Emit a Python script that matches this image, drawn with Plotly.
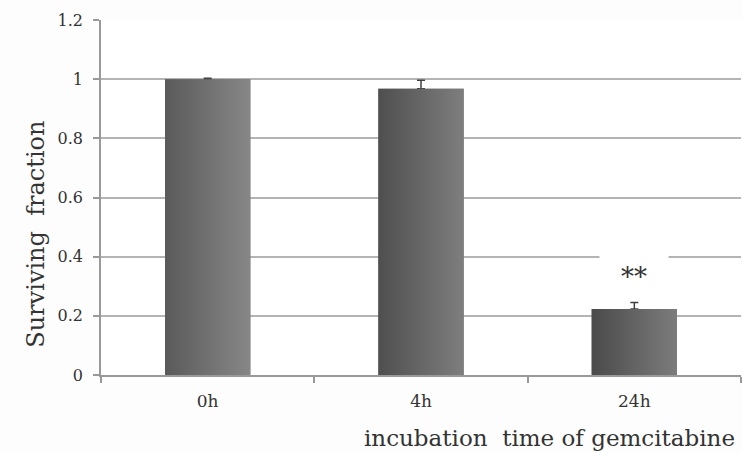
import plotly.graph_objects as go

# Surviving fraction after gemcitabine incubation
categories = ["0h", "4h", "24h"]
surviving = [1.0, 0.968, 0.223]
errors = [0.003, 0.028, 0.022]
significance = ["", "", "**"]
y_ticks = [0, 0.2, 0.4, 0.6, 0.8, 1.0, 1.2]
y_tick_text = ["0", "0.2", "0.4", "0.6", "0.8", "1", "1.2"]

# per-bar shading (left edge -> right edge)
shade_left = ["#5a5a5a", "#4f4f4f", "#4a4a4a"]
shade_right = ["#878787", "#7e7e7e", "#7c7c7c"]

BAR_W = 0.4
FONT = "DejaVu Serif"
GRID = "#b4b4b4"

xs = list(range(len(categories)))
fig = go.Figure()

fig.add_trace(go.Bar(
    x=xs, y=surviving, width=BAR_W,
    marker=dict(color="#6c6c6c", line=dict(width=0)),
    error_y=dict(type="data", array=errors, arrayminus=[0] * len(errors),
                 symmetric=False, color="#404040", thickness=1.5, width=4),
    showlegend=False, hoverinfo="skip",
))

# horizontal shading over each bar, built from the same values
for i, v in enumerate(surviving):
    x0, x1 = xs[i] - BAR_W / 2, xs[i] + BAR_W / 2
    fig.add_trace(go.Scatter(
        x=[x0, x1, x1, x0, x0], y=[0, 0, v, v, 0],
        mode="lines", fill="toself", line=dict(width=0),
        fillgradient=dict(type="horizontal",
                          colorscale=[[0, shade_left[i]], [1, shade_right[i]]]),
        showlegend=False, hoverinfo="skip",
    ))

# significance markers above the error bars
for i, s in enumerate(significance):
    if s:
        fig.add_annotation(x=xs[i], y=surviving[i] + errors[i] + 0.086, text=s,
                           showarrow=False, yanchor="middle",
                           width=60, height=36, valign="middle",
                           font=dict(family=FONT, size=26, color="#333"),
                           bgcolor="white", borderpad=4)

fig.add_annotation(xref="paper", yref="paper", x=-0.102, y=0.397,
                   xanchor="center", yanchor="middle",
                   text="Surviving  fraction", textangle=-90, showarrow=False,
                   font=dict(family=FONT, size=24, color="#333"))
fig.add_annotation(xref="paper", yref="paper", x=0.993, y=-0.177,
                   xanchor="right", yanchor="middle",
                   text="incubation  time of gemcitabine", showarrow=False,
                   font=dict(family=FONT, size=23, color="#333"))

fig.update_xaxes(
    range=[-0.5, len(categories) - 0.5],
    tickvals=xs, ticktext=categories, ticks="", ticklabelstandoff=10,
    tickfont=dict(family=FONT, size=17, color="#333"),
    showgrid=False, zeroline=False,
    showline=True, linecolor="#999", linewidth=1.5,
    minor=dict(tickvals=[x - 0.5 for x in xs] + [len(xs) - 0.5],
               ticks="outside", ticklen=6, tickcolor="#999", tickwidth=1.5),
)
fig.update_yaxes(
    range=[0, 1.2], tickvals=y_ticks, ticktext=y_tick_text,
    ticks="outside", ticklen=6, tickcolor="#999", tickwidth=1.5,
    ticklabelstandoff=7,
    tickfont=dict(family=FONT, size=16, color="#333"),
    showgrid=True, gridcolor=GRID, gridwidth=1.5, zeroline=False,
    showline=True, linecolor="#999", linewidth=1.5,
)

fig.update_layout(
    width=742, height=452,
    margin=dict(l=101, r=1, t=20, b=77),
    plot_bgcolor="white", paper_bgcolor="#fdfdfd",
    bargap=0.6,
)

fig.write_html("out.html")
